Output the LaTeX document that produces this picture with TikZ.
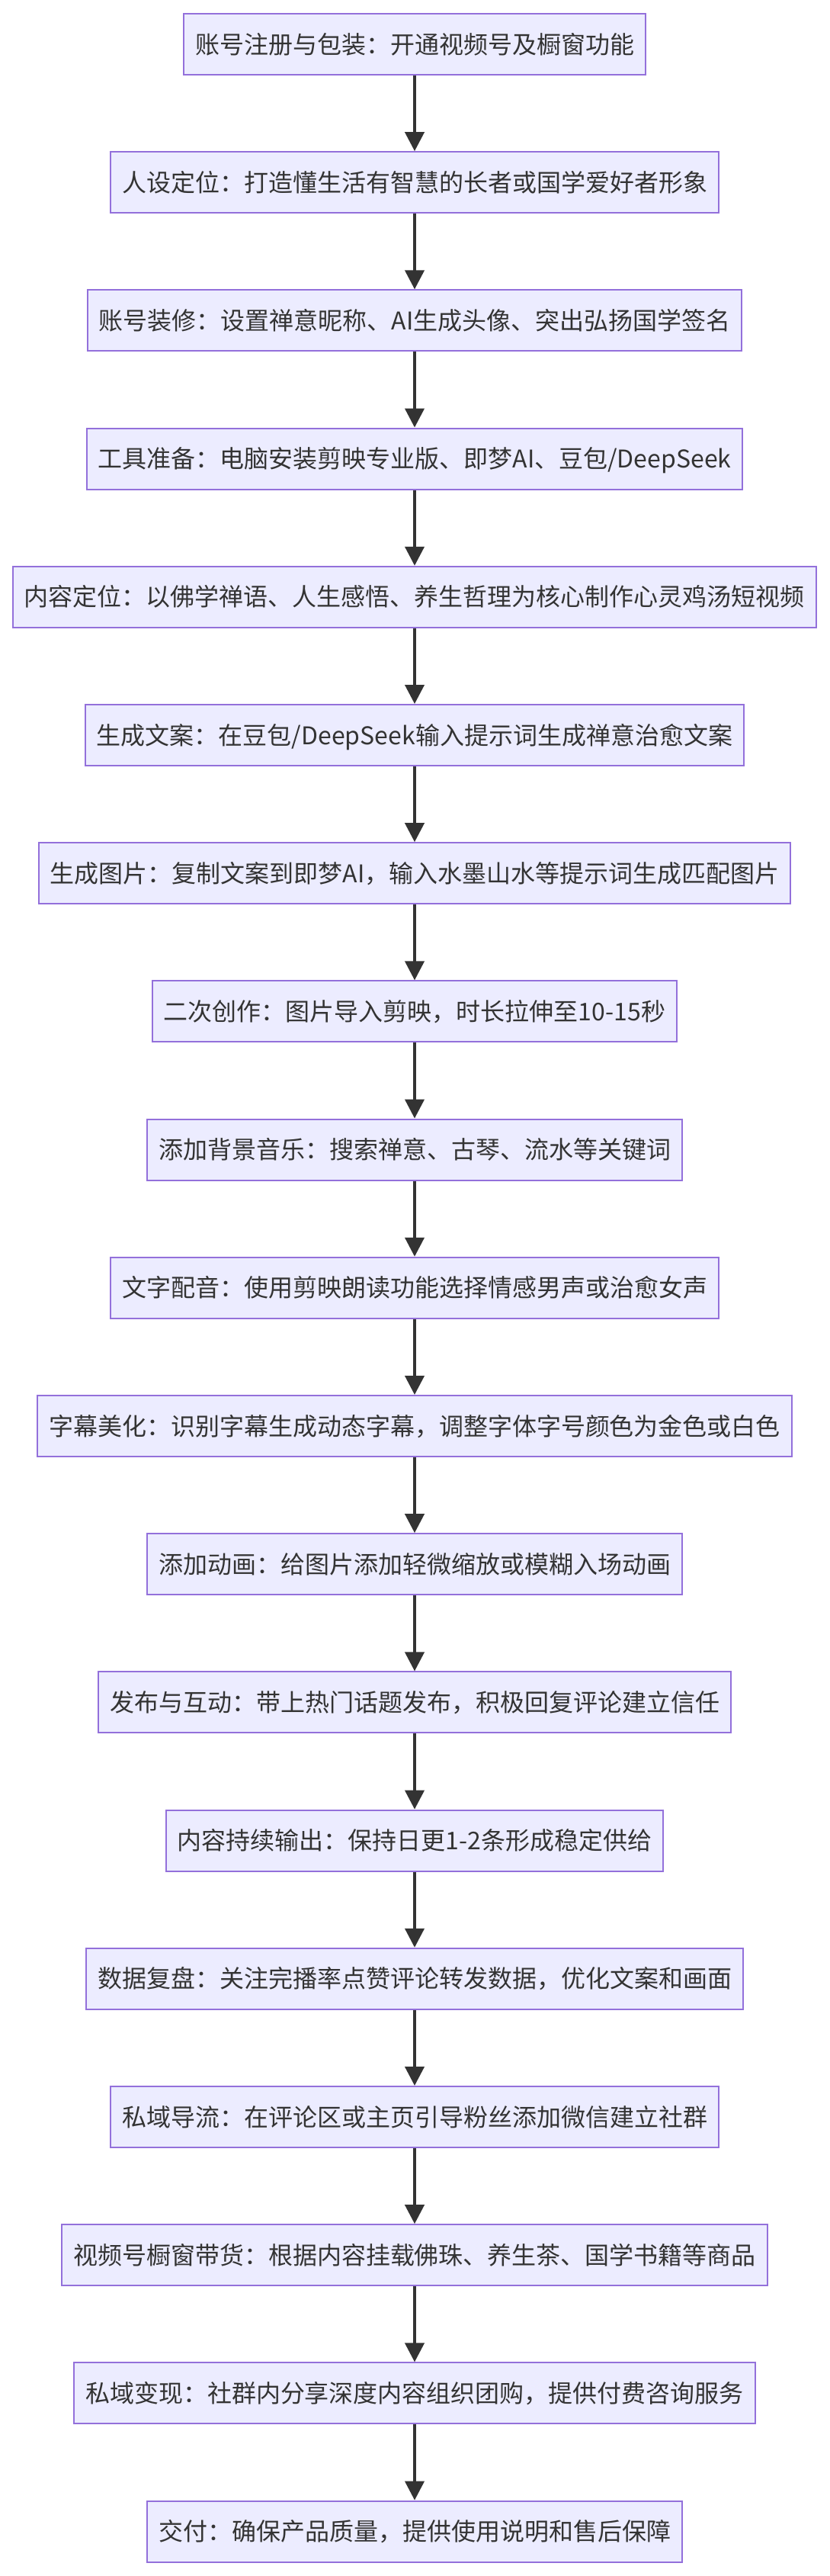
\documentclass[tikz,border=0pt]{standalone}
\usepackage{fontspec}
\setmainfont{Noto Sans CJK SC}
\usetikzlibrary{arrows.meta,positioning}
\definecolor{BoxFill}{HTML}{ECECFF}
\definecolor{BoxLine}{HTML}{9370DB}
\definecolor{Ink}{HTML}{333333}

\begin{document}
\begin{tikzpicture}[font=\fontsize{16pt}{19pt}\selectfont,node distance=49.6pt,
  stepbox/.style={draw=BoxLine,fill=BoxFill,line width=1pt,minimum height=40pt,
    text height=14pt,text depth=2pt,inner xsep=7.5pt,inner ysep=0pt,text=Ink},
  flow/.style={draw=Ink,line width=2pt,-{Triangle[length=12.5pt,width=12.5pt]}}]
\useasboundingbox (0,0) rectangle (544pt,-1689pt);
\node[stepbox,anchor=north] (reg) at (272pt,-8.5pt) {账号注册与包装：开通视频号及橱窗功能};
\node[stepbox,below=of reg] (persona) {人设定位：打造懂生活有智慧的长者或国学爱好者形象};
\node[stepbox,below=of persona] (decor) {账号装修：设置禅意昵称、AI生成头像、突出弘扬国学签名};
\node[stepbox,below=of decor] (tools) {工具准备：电脑安装剪映专业版、即梦AI、豆包/DeepSeek};
\node[stepbox,below=of tools] (topic) {内容定位：以佛学禅语、人生感悟、养生哲理为核心制作心灵鸡汤短视频};
\node[stepbox,below=of topic] (copy) {生成文案：在豆包/DeepSeek输入提示词生成禅意治愈文案};
\node[stepbox,below=of copy] (image) {生成图片：复制文案到即梦AI，输入水墨山水等提示词生成匹配图片};
\node[stepbox,below=of image] (edit) {二次创作：图片导入剪映，时长拉伸至10-15秒};
\node[stepbox,below=of edit] (music) {添加背景音乐：搜索禅意、古琴、流水等关键词};
\node[stepbox,below=of music] (voice) {文字配音：使用剪映朗读功能选择情感男声或治愈女声};
\node[stepbox,below=of voice] (subs) {字幕美化：识别字幕生成动态字幕，调整字体字号颜色为金色或白色};
\node[stepbox,below=of subs] (anim) {添加动画：给图片添加轻微缩放或模糊入场动画};
\node[stepbox,below=of anim] (post) {发布与互动：带上热门话题发布，积极回复评论建立信任};
\node[stepbox,below=of post] (keep) {内容持续输出：保持日更1-2条形成稳定供给};
\node[stepbox,below=of keep] (review) {数据复盘：关注完播率点赞评论转发数据，优化文案和画面};
\node[stepbox,below=of review] (funnel) {私域导流：在评论区或主页引导粉丝添加微信建立社群};
\node[stepbox,below=of funnel] (shop) {视频号橱窗带货：根据内容挂载佛珠、养生茶、国学书籍等商品};
\node[stepbox,below=of shop] (cash) {私域变现：社群内分享深度内容组织团购，提供付费咨询服务};
\node[stepbox,below=of cash] (deliver) {交付：确保产品质量，提供使用说明和售后保障};
\foreach \a/\b in {reg/persona,persona/decor,decor/tools,tools/topic,topic/copy,copy/image,
  image/edit,edit/music,music/voice,voice/subs,subs/anim,anim/post,post/keep,keep/review,
  review/funnel,funnel/shop,shop/cash,cash/deliver}
  \draw[flow] (\a) -- (\b);
\end{tikzpicture}
\end{document}
